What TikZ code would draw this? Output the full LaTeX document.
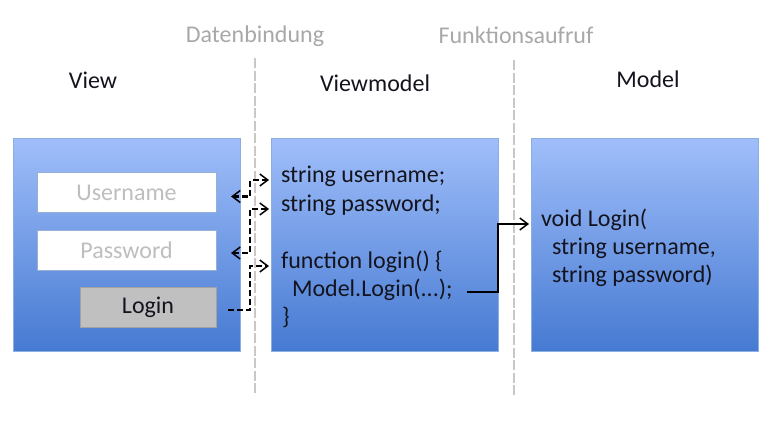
\documentclass[tikz,border=0pt]{standalone}
\usepackage{fontspec}
\setmainfont{Carlito}
\usepackage{tikz}
\usetikzlibrary{positioning}
\usetikzlibrary{arrows.meta,calc}
\definecolor{boxtop}{RGB}{160,190,250}
\definecolor{boxbottom}{RGB}{70,122,210}
\definecolor{boxborder}{RGB}{140,175,225}
\definecolor{fieldborder}{RGB}{150,175,210}
\definecolor{placeholder}{RGB}{190,190,190}
\definecolor{sepgray}{RGB}{200,200,200}
\definecolor{labelgray}{RGB}{168,168,168}
\definecolor{btnfill}{RGB}{192,192,192}
\definecolor{inktext}{RGB}{20,20,30}
\tikzset{
    %Define standard arrow tip
    >={Straight Barb[length=8pt,width=12pt,line width=1.5pt]},
    % Define data binding arrow style
    bindlink/.style={
           color=black,
           line width=2.2pt,
           dash pattern=on 6pt off 3pt,
           shorten <=15pt,
           shorten >=12pt,},
    % Define function call arrow style
    calllink/.style={
           ->,
           color=black,
           line width=2.4pt,
           shorten <=14pt,
           shorten >=12pt,}
}
\newcommand{\boxheight}{213pt}

\begin{document}
\begin{tikzpicture}[x=1pt, y=-1pt, outer sep=0pt, every node/.style={font=\fontsize{24}{28}\selectfont, text=inktext}]
\tikzstyle{layerbox}=[draw=boxborder, line width=0.8pt, top color=boxtop, bottom color=boxbottom,
                   rectangle, minimum height=\boxheight, minimum width=227pt, inner sep=0pt]
\tikzstyle{fieldbox}=[draw=fieldborder, fill=white, rectangle, line width=0.8pt, text=placeholder,
                   minimum height=40pt, minimum width=179pt, inner sep=0pt]
\tikzstyle{buttonbox}=[draw=btnfill!85!black, fill=btnfill, rectangle, line width=0.6pt,
                   minimum height=40pt, minimum width=136pt, inner sep=0pt]
\tikzstyle{codetext}=[anchor=base west, inner sep=0pt, text height=12pt, text depth=8pt]
\tikzstyle{headtext}=[anchor=base, inner sep=0pt]
\tikzstyle{sepline}=[draw=sepgray, line width=2pt, dash pattern=on 10pt off 2.5pt]

\useasboundingbox (0,0) rectangle (770,428);

%%%%%%%%%%%%%%%%%%%%%%%%%%%%%%%%%
% Separators
%%%%%%%%%%%%%%%%%%%%%%%%%%%%%%%%%
    \node[headtext, text=labelgray] (bindlabel) at (255,43) {Datenbindung};
    \node[headtext, text=labelgray] (calllabel) at (516,44) {Funktionsaufruf};
    \draw[sepline] (255,58) -- (255,393);
    \draw[sepline] (514,60) -- (514,395);

%%%%%%%%%%%%%%%%%%%%%%%%%%%%%%%%%
% Layers
%%%%%%%%%%%%%%%%%%%%%%%%%%%%%%%%%
    \node[headtext] (viewlabel)  at (93,88)  {View};
    \node[headtext] (vmlabel)    at (375,91) {Viewmodel};
    \node[headtext] (modellabel) at (648,87) {Model};

    \node[layerbox] (view)  at (126.5,244.5) {};
    \node[layerbox] (vm)    at (384.5,244.5) {};
    \node[layerbox] (model) at (644.5,244.5) {};

%%%%%%%%%%%%%%%%%%%%%%%%%%%%%%%%%
% View controls
%%%%%%%%%%%%%%%%%%%%%%%%%%%%%%%%%
    \node[fieldbox] (userfield) at (126.5,192.5) {Username};
    \node[fieldbox] (passfield) at (126.5,250)   {Password};
    \node[buttonbox] (loginbtn) at (148,307)     {Login};

%%%%%%%%%%%%%%%%%%%%%%%%%%%%%%%%%
% Viewmodel code
%%%%%%%%%%%%%%%%%%%%%%%%%%%%%%%%%
    \node[codetext] (vmuser)  at (281,182) {string username;};
    \node[codetext] (vmpass)  at (281,211) {string password;};
    \node[codetext] (vmfunc)  at (281,268) {function login() \{};
    \node[codetext] (vmcall)  at (292,296) {Model.Login({.}{.}{.});};
    \node[codetext] (vmclose) at (282,324) {\}};

%%%%%%%%%%%%%%%%%%%%%%%%%%%%%%%%%
% Model code
%%%%%%%%%%%%%%%%%%%%%%%%%%%%%%%%%
    \node[codetext] (mlogin) at (541,226) {void Login(};
    \node[codetext] (muser)  at (552,254) {string username,};
    \node[codetext] (mpass)  at (552,282) {string password)};

%%%%%%%%%%%%%%%%%%%%%%%%%%%%%%%%%
% Connectors
%%%%%%%%%%%%%%%%%%%%%%%%%%%%%%%%%
\draw[bindlink,<->] ([yshift=-4pt]userfield.east) -| ([xshift=-31pt]vmuser.west) -- (vmuser.west);
\draw[bindlink,<->] ([yshift=-3pt]passfield.east) -| ([xshift=-31pt]vmpass.west) -- (vmpass.west);
\draw[bindlink,->,shorten <=12pt] ([yshift=-3pt]loginbtn.east) -| ([xshift=-31pt]vmfunc.west) -- (vmfunc.west);
\draw[calllink] ([yshift=2pt]vmcall.east) -| ([xshift=-43pt]mlogin.west) -- (mlogin.west);

\end{tikzpicture}
\end{document}
